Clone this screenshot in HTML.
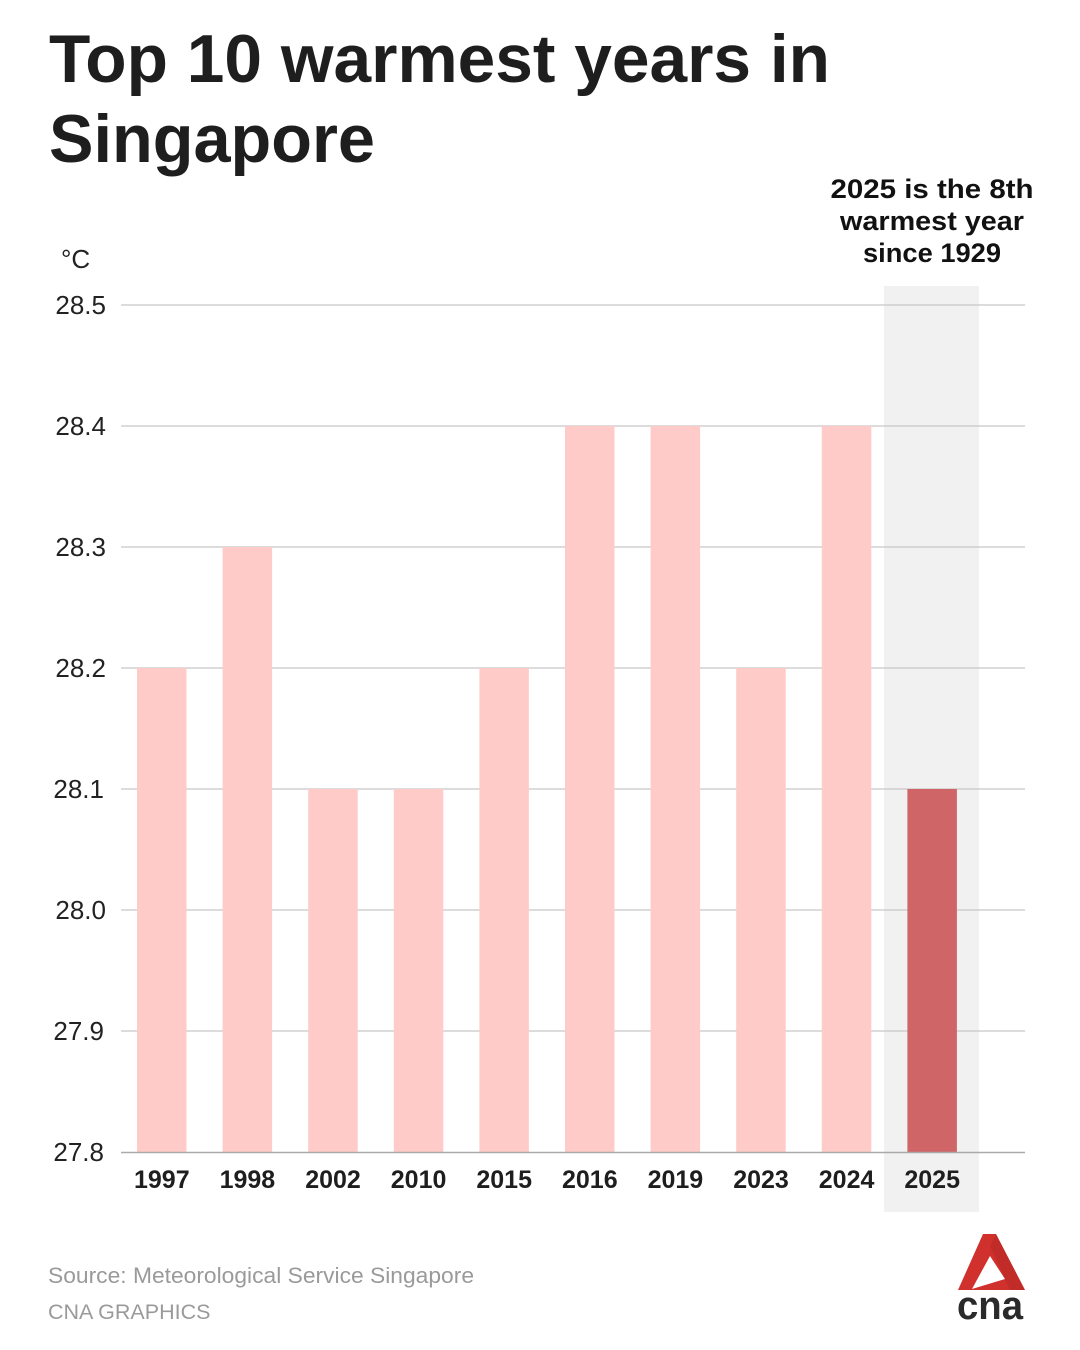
<!DOCTYPE html>
<html>
<head>
<meta charset="utf-8">
<style>
  html,body{margin:0;padding:0;background:#fff;}
  body{width:1080px;height:1350px;overflow:hidden;}
  svg{display:block;}
</style>
</head>
<body>
<svg width="1080" height="1350" viewBox="0 0 1080 1350" xmlns="http://www.w3.org/2000/svg" font-family="'Liberation Sans', sans-serif">
  <rect x="0" y="0" width="1080" height="1350" fill="#ffffff"/>

  <!-- Title -->
  <text x="49" y="82" font-size="68" font-weight="bold" fill="#1e1e1e" textLength="781" lengthAdjust="spacingAndGlyphs">Top 10 warmest years in</text>
  <text x="49" y="162" font-size="68" font-weight="bold" fill="#1e1e1e" textLength="326" lengthAdjust="spacingAndGlyphs">Singapore</text>

  <!-- Annotation -->
  <g font-size="27" font-weight="bold" fill="#111" text-anchor="middle">
    <text x="932" y="198" textLength="203" lengthAdjust="spacingAndGlyphs">2025 is the 8th</text>
    <text x="932" y="230" textLength="184" lengthAdjust="spacingAndGlyphs">warmest year</text>
    <text x="932" y="262" textLength="138" lengthAdjust="spacingAndGlyphs">since 1929</text>
  </g>

  <!-- Highlight band -->
  <rect x="884" y="286" width="95" height="926" fill="#f1f1f1"/>

  <!-- Unit -->
  <text x="61" y="268" font-size="26" fill="#222">°C</text>

  <!-- Gridlines -->
  <g stroke="#c8c8c8" stroke-width="1.2">
    <line x1="121" y1="305" x2="1025" y2="305"/>
    <line x1="121" y1="426" x2="1025" y2="426"/>
    <line x1="121" y1="547" x2="1025" y2="547"/>
    <line x1="121" y1="668" x2="1025" y2="668"/>
    <line x1="121" y1="789" x2="1025" y2="789"/>
    <line x1="121" y1="910" x2="1025" y2="910"/>
    <line x1="121" y1="1031" x2="1025" y2="1031"/>
  </g>

  <!-- Y labels -->
  <g font-size="26" fill="#222" text-anchor="end">
    <text x="106" y="314">28.5</text>
    <text x="106" y="435">28.4</text>
    <text x="106" y="556">28.3</text>
    <text x="106" y="677">28.2</text>
    <text x="104" y="798">28.1</text>
    <text x="106" y="919">28.0</text>
    <text x="104" y="1040">27.9</text>
    <text x="104" y="1161">27.8</text>
  </g>

  <!-- Bars -->
  <g fill="#ffcbc8">
    <rect x="137" y="668" width="49.5" height="484"/>
    <rect x="222.6" y="547" width="49.5" height="605"/>
    <rect x="308.2" y="789" width="49.5" height="363"/>
    <rect x="393.8" y="789" width="49.5" height="363"/>
    <rect x="479.4" y="668" width="49.5" height="484"/>
    <rect x="565" y="426" width="49.5" height="726"/>
    <rect x="650.6" y="426" width="49.5" height="726"/>
    <rect x="736.2" y="668" width="49.5" height="484"/>
    <rect x="821.8" y="426" width="49.5" height="726"/>
  </g>
  <rect x="907.4" y="789" width="49.5" height="363" fill="#cf6567"/>

  <!-- Baseline -->
  <line x1="121" y1="1152.5" x2="1025" y2="1152.5" stroke="#aaaaaa" stroke-width="1.4"/>

  <!-- X labels -->
  <g font-size="25" font-weight="bold" fill="#1e1e1e" text-anchor="middle">
    <text x="161.8" y="1188">1997</text>
    <text x="247.4" y="1188">1998</text>
    <text x="333" y="1188">2002</text>
    <text x="418.6" y="1188">2010</text>
    <text x="504.2" y="1188">2015</text>
    <text x="589.8" y="1188">2016</text>
    <text x="675.4" y="1188">2019</text>
    <text x="761" y="1188">2023</text>
    <text x="846.6" y="1188">2024</text>
    <text x="932.2" y="1188">2025</text>
  </g>

  <!-- Footer -->
  <text x="48" y="1283" font-size="22" fill="#9a9a9a" textLength="426" lengthAdjust="spacingAndGlyphs">Source: Meteorological Service Singapore</text>
  <text x="48" y="1319" font-size="21.5" fill="#9a9a9a">CNA GRAPHICS</text>

  <!-- Logo -->
  <polygon points="983,1234 996,1234 1025,1290 958,1290" fill="#d0312d"/>
  <polygon points="990,1256 972,1289 1005,1279" fill="#ffffff"/>
  <polygon points="996,1234 1025,1290 1010,1290 990,1246" fill="#b82a27" opacity="0.6"/>
  <text x="957" y="1319" font-size="40" font-weight="bold" fill="#2a2a2a" textLength="66" lengthAdjust="spacingAndGlyphs">cna</text>
</svg>
</body>
</html>
